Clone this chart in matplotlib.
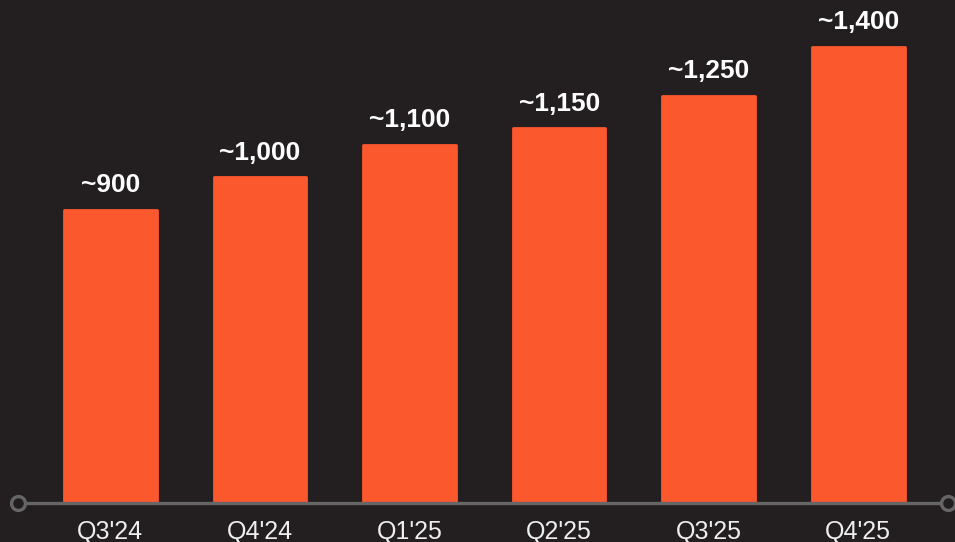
import matplotlib.pyplot as plt

quarters = ["Q3'24", "Q4'24", "Q1'25", "Q2'25", "Q3'25", "Q4'25"]
values = [900, 1000, 1100, 1150, 1250, 1400]
labels = ["~900", "~1,000", "~1,100", "~1,150", "~1,250", "~1,400"]

bg = "#231f20"
bar_color = "#fc582e"
axis_gray = "#666666"

plt.rcParams['font.family'] = ['Liberation Sans', 'DejaVu Sans']

fig = plt.figure(figsize=(9.55, 5.42), dpi=100, facecolor=bg)
ax = fig.add_axes([18 / 955, 39 / 542, 930 / 955, 503 / 542])
ax.set_facecolor(bg)

x = list(range(len(quarters)))
ax.bar(x, values, width=0.62, color=bar_color, edgecolor=bar_color,
       linewidth=2, joinstyle='round', zorder=2)

for xi, v, lab in zip(x, values, labels):
    ax.annotate(lab, (xi, v), xytext=(0, 9), textcoords='offset points',
                ha='center', va='bottom', color='white', fontsize=19,
                fontweight='bold')

ax.set_xlim(-0.618, 5.60)
ax.set_ylim(0, 1544)

# baseline with hollow circles at both ends
ax.plot([-0.618, 5.60], [0, 0], color=axis_gray, lw=2.4, zorder=3,
        clip_on=False, solid_capstyle='butt')
ax.plot([-0.618, 5.60], [0, 0], 'o', ms=10, mfc=bg, mec=axis_gray,
        mew=2.4, zorder=4, clip_on=False)

ax.set_xticks(x)
ax.set_xticklabels(quarters, color='#eeeeee', fontsize=18)
ax.tick_params(axis='x', length=0, pad=12)
ax.set_yticks([])
for s in ax.spines.values():
    s.set_visible(False)

fig.savefig("out.png", dpi=100, facecolor=bg)
